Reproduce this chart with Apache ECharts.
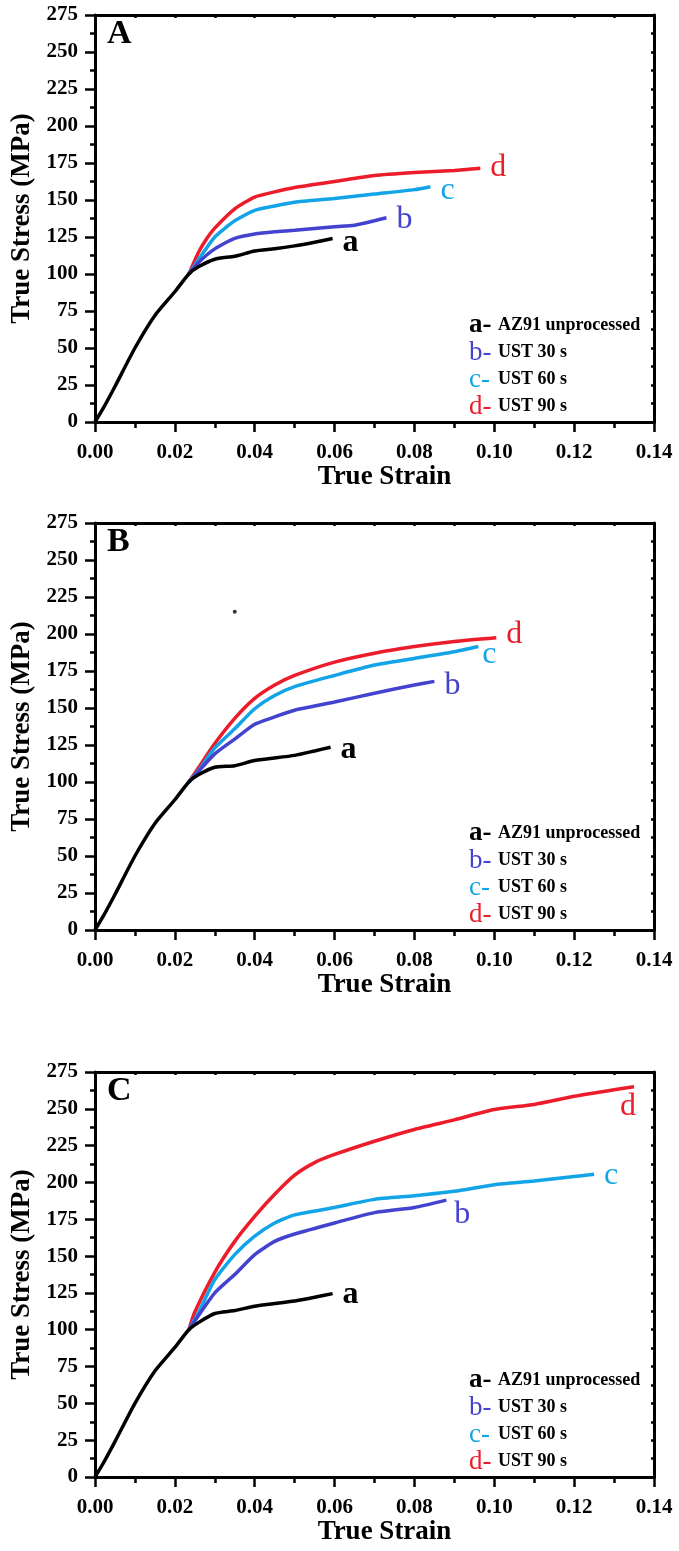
<!DOCTYPE html>
<html>
<head>
<meta charset="utf-8">
<script src="https://cdn.jsdelivr.net/npm/echarts@6/dist/echarts.min.js"></script>
<style>
  html, body { margin: 0; padding: 0; background: #fff; }
  #chart { width: 679px; height: 1551px; }
</style>
</head>
<body>
<div id="chart"></div>
<script>
// axis ticks
var strainTicks = [0, 0.14, 0.02];
var stressTicks = [0, 275, 25];
var panelNames = ['A', 'B', 'C'];
var curveNames = ['a', 'b', 'c', 'd'];
var legendTexts = {
	a : 'AZ91 unprocessed',
	b : 'UST 30 s',
	c : 'UST 60 s',
	d : 'UST 90 s'
};
var colors = {
	a : '#000000',
	b : '#4343cf',
	c : '#12a4e6',
	d : '#ec1c2a'
};

// [true strain, true stress MPa]
var curveA_a = [[0, 0], [0.002, 9], [0.005, 24], [0.01, 50], [0.015, 72], [0.02, 88], [0.0235, 100], [0.026, 105], [0.03, 110], [0.035, 112], [0.04, 115.5], [0.045, 117], [0.05, 119], [0.055, 121.5], [0.0595, 124]];
var curveA_b = [[0.0235, 100], [0.026, 108], [0.03, 117], [0.035, 124], [0.04, 127], [0.045, 128.5], [0.05, 129.5], [0.06, 132], [0.065, 133], [0.07, 136], [0.073, 138]];
var curveA_c = [[0.0235, 100], [0.026, 110], [0.03, 125], [0.035, 136], [0.04, 143], [0.045, 146], [0.05, 148.5], [0.06, 151], [0.07, 154], [0.08, 157], [0.084, 159]];
var curveA_d = [[0.0235, 100], [0.026, 115], [0.028, 124], [0.03, 131], [0.035, 144], [0.04, 152], [0.045, 155.5], [0.05, 158.5], [0.06, 162.5], [0.07, 166.5], [0.08, 168.5], [0.09, 170], [0.0965, 171.5]];

var curveB_a = [[0, 0], [0.002, 9], [0.005, 24], [0.01, 50], [0.015, 72], [0.02, 88], [0.0235, 100], [0.026, 105], [0.03, 110], [0.035, 111], [0.04, 114.5], [0.05, 118], [0.055, 121], [0.059, 123.5]];
var curveB_b = [[0.0235, 100], [0.025, 104.5], [0.03, 119], [0.035, 129], [0.04, 139], [0.045, 144], [0.05, 148.5], [0.06, 154], [0.07, 160], [0.08, 165.5], [0.085, 168]];
var curveB_c = [[0.0235, 100], [0.026, 108], [0.03, 123], [0.035, 136], [0.04, 149.5], [0.045, 158.5], [0.05, 164.5], [0.06, 172], [0.07, 179], [0.08, 183.5], [0.09, 188], [0.096, 191.5]];
var curveB_d = [[0.0235, 100], [0.026, 110], [0.03, 126], [0.035, 143], [0.04, 156.5], [0.045, 165.5], [0.05, 172], [0.06, 181], [0.07, 187], [0.08, 191.5], [0.09, 195], [0.1005, 197.5]];
var strayDotB = [[0.035, 215]];

var curveC_a = [[0, 0], [0.002, 9], [0.005, 24], [0.01, 50], [0.015, 72], [0.02, 88], [0.0235, 100], [0.026, 105], [0.03, 111], [0.035, 113], [0.04, 116], [0.05, 119.5], [0.055, 122], [0.0595, 124.5]];
var curveC_b = [[0.0235, 100], [0.025, 106], [0.03, 125], [0.035, 137.5], [0.04, 151], [0.045, 160], [0.05, 165], [0.06, 172.5], [0.07, 179.5], [0.08, 183], [0.088, 188]];
var curveC_c = [[0.0235, 100], [0.026, 112], [0.03, 134], [0.035, 151], [0.04, 163.5], [0.045, 172.5], [0.05, 178], [0.06, 183], [0.07, 188.5], [0.08, 191], [0.09, 194], [0.1, 198.5], [0.11, 201], [0.12, 204], [0.125, 205.5]];
var curveC_d = [[0.0235, 100], [0.025, 112], [0.03, 139], [0.035, 160], [0.04, 177], [0.045, 192], [0.05, 205], [0.055, 213.5], [0.06, 219], [0.07, 228], [0.08, 236], [0.09, 242.5], [0.1, 249.5], [0.11, 253], [0.12, 258.5], [0.13, 263], [0.135, 265]];

var panelCurves = [
	{ a : curveA_a, b : curveA_b, c : curveA_c, d : curveA_d },
	{ a : curveB_a, b : curveB_b, c : curveB_c, d : curveB_d },
	{ a : curveC_a, b : curveC_b, c : curveC_c, d : curveC_d }
];

// layout of the three panels
var gridTop = [15, 523, 1072];
var gridHeight = [407, 407, 405];
// end label offsets [dx, dy] per panel and curve
var endOffsets = [
	{ a : [2, 4], b : [2, 2], c : [2, 4], d : [2, -1] },
	{ a : [2, 3], b : [2, 4], c : [-4, 8], d : [2, -3] },
	{ a : [2, 1], b : [0, 14], c : [2, 1], d : [-22, 20] }
];

var serif = "'Liberation Serif', 'Times New Roman', serif";

var option = {
	animation : false,
	backgroundColor : '#ffffff',
	title : [],
	legend : [],
	grid : [],
	xAxis : [],
	yAxis : [],
	series : []
};

var legendRich = {
	t : { fontFamily : serif, fontSize : 18, fontWeight : 'bold', color : '#000', lineHeight : 27 }
};
curveNames.forEach(function(n) {
	legendRich[n] = {
		fontFamily : serif,
		fontSize : 27,
		fontWeight : n == 'a' ? 'bold' : 'normal',
		color : colors[n],
		width : 29,
		lineHeight : 27
	};
});

for (var i = 0; i < 3; i++) {
	var zeroY = gridTop[i] + gridHeight[i];

	option.grid.push({
		left : 95,
		width : 559,
		top : gridTop[i],
		height : gridHeight[i]
	});

	option.title.push({
		text : panelNames[i],
		left : 107,
		top : gridTop[i] + 2,
		padding : 0,
		textStyle : { fontFamily : serif, fontSize : 34, fontWeight : 'bold', color : '#000' }
	});

	option.legend.push({
		data : curveNames,
		orient : 'vertical',
		left : 464,
		top : zeroY - 110,
		padding : 0,
		itemGap : 0,
		itemWidth : 0,
		itemHeight : 0,
		icon : 'none',
		selectedMode : false,
		formatter : function(name) {
			return '{' + name + '|' + name + '-}{t|' + legendTexts[name] + '}';
		},
		textStyle : { rich : legendRich }
	});

	// bottom strain axis
	option.xAxis.push({
		type : 'value',
		gridIndex : i,
		position : 'bottom',
		min : strainTicks[0],
		max : strainTicks[1],
		interval : strainTicks[2],
		name : 'True Strain',
		nameLocation : 'middle',
		nameGap : 41,
		nameTextStyle : { fontFamily : serif, fontSize : 27, fontWeight : 'bold', color : '#000', padding : [0, 0, 0, 20] },
		axisLine : { onZero : false, lineStyle : { color : '#000', width : 3 } },
		axisTick : { show : true, inside : false, length : 10, lineStyle : { color : '#000', width : 2.5 } },
		minorTick : { show : true, splitNumber : 2, length : 6, lineStyle : { color : '#000', width : 2.5 } },
		axisLabel : {
			margin : 20,
			fontFamily : serif,
			fontSize : 21,
			fontWeight : 'bold',
			color : '#000',
			formatter : function(v) { return v.toFixed(2); }
		},
		splitLine : { show : false }
	});
	// top frame
	option.xAxis.push({
		type : 'value',
		gridIndex : i,
		position : 'top',
		min : strainTicks[0],
		max : strainTicks[1],
		interval : strainTicks[2] / 2,
		axisLine : { onZero : false, lineStyle : { color : '#000', width : 3 } },
		axisTick : { show : true, inside : true, length : 3, lineStyle : { color : '#000', width : 2.5 } },
		axisLabel : { show : false },
		splitLine : { show : false }
	});

	// left stress axis
	option.yAxis.push({
		type : 'value',
		gridIndex : i,
		position : 'left',
		min : stressTicks[0],
		max : stressTicks[1],
		interval : stressTicks[2],
		name : 'True Stress (MPa)',
		nameLocation : 'middle',
		nameGap : 51,
		nameTextStyle : { fontFamily : serif, fontSize : 27, fontWeight : 'bold', color : '#000' },
		axisLine : { show : true, onZero : false, lineStyle : { color : '#000', width : 3 } },
		axisTick : { show : true, inside : false, length : 10, lineStyle : { color : '#000', width : 2.5 } },
		minorTick : { show : true, splitNumber : 2, length : 5, lineStyle : { color : '#000', width : 2.5 } },
		axisLabel : {
			margin : 17,
			fontFamily : serif,
			fontSize : 21,
			fontWeight : 'bold',
			color : '#000'
		},
		splitLine : { show : false }
	});
	// right frame
	option.yAxis.push({
		type : 'value',
		gridIndex : i,
		position : 'right',
		min : stressTicks[0],
		max : stressTicks[1],
		interval : stressTicks[2] / 2,
		axisLine : { show : true, onZero : false, lineStyle : { color : '#000', width : 3 } },
		axisTick : { show : true, inside : true, length : 3, lineStyle : { color : '#000', width : 2.5 } },
		axisLabel : { show : false },
		splitLine : { show : false }
	});

	// draw d first so that a stays on top
	['d', 'c', 'b', 'a'].forEach(function(n) {
		option.series.push({
			name : n,
			type : 'line',
			xAxisIndex : 2 * i,
			yAxisIndex : 2 * i,
			data : panelCurves[i][n],
			showSymbol : false,
			smooth : 0.2,
			lineStyle : { color : colors[n], width : 3.5 },
			itemStyle : { color : colors[n] },
			endLabel : {
				show : true,
				formatter : n,
				offset : endOffsets[i][n],
				fontFamily : serif,
				fontSize : 32,
				fontWeight : n == 'a' ? 'bold' : 'normal',
				color : colors[n]
			}
		});
	});
}

option.series.push({
	name : 'dot',
	type : 'scatter',
	xAxisIndex : 2,
	yAxisIndex : 2,
	data : strayDotB,
	symbolSize : 4,
	itemStyle : { color : '#000' }
});

var chart = echarts.init(document.getElementById('chart'));
chart.setOption(option);
</script>
</body>
</html>
